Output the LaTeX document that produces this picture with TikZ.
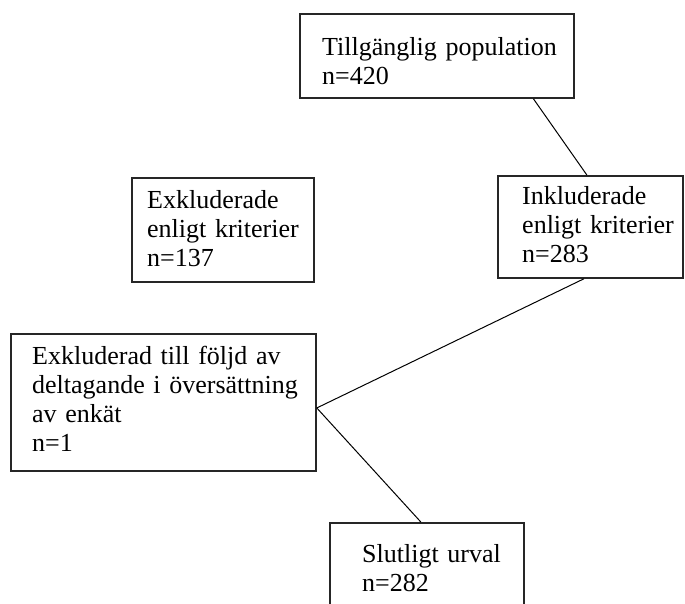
\documentclass[tikz,border=0pt]{standalone}
\usepackage{fontspec}
\setmainfont{Liberation Serif}
\usetikzlibrary{calc}
\begin{document}
\begin{tikzpicture}[x=1pt,y=-1pt,
  box/.style={draw=black!85,line width=1.8pt,rectangle,inner sep=0pt,anchor=north west},
  txt/.style={inner sep=0pt,anchor=north west,text width=320pt,align=left,text height=20pt,
    font=\fontsize{26}{29}\selectfont},
  conn/.style={draw=black,line width=1pt}]
\clip (0,0) rectangle (685,603);
\fill[white] (0,0) rectangle (685,603);
\node[box,minimum width=274pt,minimum height=84pt] (b1) at (299,13) {};
\node[box,minimum width=182pt,minimum height=104pt] (b3) at (131,177) {};
\node[box,minimum width=185pt,minimum height=102pt] (b2) at (497,175) {};
\node[box,minimum width=305pt,minimum height=137pt] (b4) at (10,333) {};
\node[box,minimum width=194pt,minimum height=110pt] (b5) at (329,522) {};
\node[txt] (t1) at (322,35) {Tillgänglig population\\n=420};
\node[txt] (t3) at (147,188) {Exkluderade\\enligt kriterier\\n=137};
\node[txt] (t2) at (522,184) {Inkluderade\\enligt kriterier\\n=283};
\node[txt] (t4) at (32,344) {Exkluderad till följd av\\deltagande i översättning\\av enkät\\n=1};
\node[txt] (t5) at (362,542) {Slutligt urval\\n=282};
\coordinate (j1) at ($(b4.north east)!0.54!(b4.south east)$);
\draw[conn] ($(b1.south west)!0.85!(b1.south east)$) -- ($(b2.north west)!0.481!(b2.north east)$);
\draw[conn] ($(b2.south west)!0.465!(b2.south east)$) -- (j1);
\draw[conn] (j1) -- ($(b5.north west)!0.469!(b5.north east)$);
\end{tikzpicture}
\end{document}
